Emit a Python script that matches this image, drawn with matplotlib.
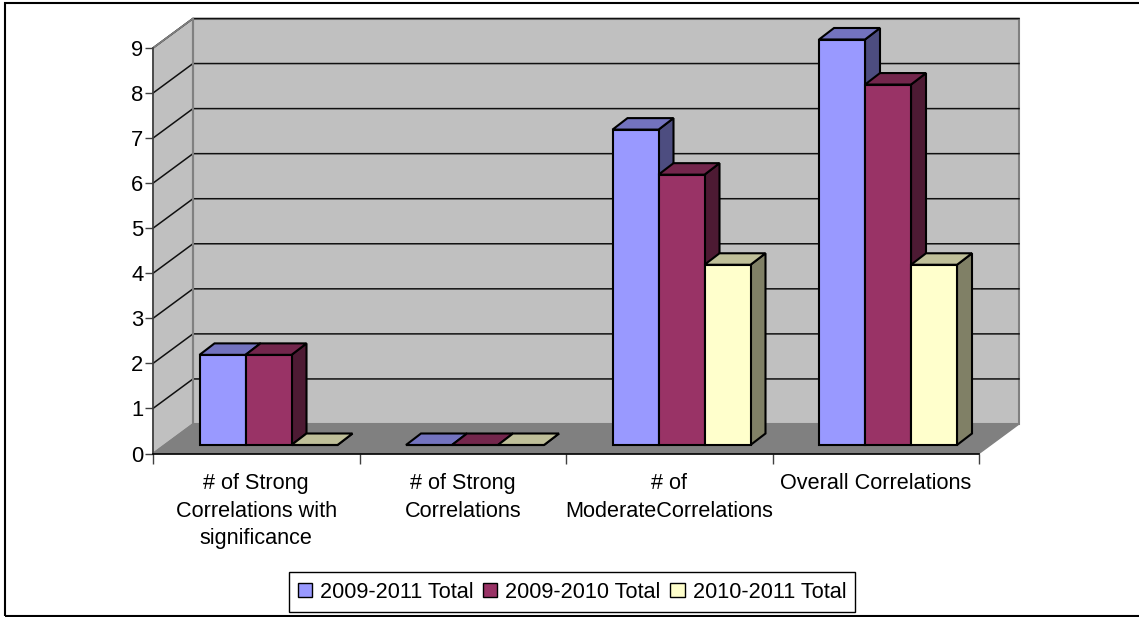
import matplotlib
matplotlib.use('Agg')
import matplotlib.pyplot as plt
from matplotlib.patches import Patch, Polygon

categories = ['# of Strong\nCorrelations with\nsignificance', '# of Strong\nCorrelations',
              '# of\nModerateCorrelations', 'Overall Correlations']
series_names = ['2009-2011 Total', '2009-2010 Total', '2010-2011 Total']
total_0911 = [2, 0, 7, 9]
total_0910 = [2, 0, 6, 8]
total_1011 = [0, 0, 4, 4]
yticks = list(range(10))

front = ['#9999FF', '#993366', '#FFFFCC']
top = ['#7373BF', '#73264C', '#BFBF99']
side = ['#4D4D80', '#4D1A33', '#808066']

W, H = 1139, 617
plt.rcParams['font.family'] = ['Liberation Sans', 'DejaVu Sans']

fig = plt.figure(figsize=(W / 100, H / 100), dpi=100, facecolor='white')

# outer frame around the chart, its right edge runs off the canvas
fig.add_artist(plt.Rectangle((5 / W, 1 - 616 / H), 1140 / W, 613.5 / H, fill=False,
                             ec='black', lw=1.5, transform=fig.transFigure))

ax = fig.add_axes([153 / W, 1 - 453.5 / H, 826 / W, 405.5 / H])
ax.set_xlim(0, 4)
ax.set_ylim(0, 9)
ax.patch.set_visible(False)
for s in ['top', 'right']:
    ax.spines[s].set_visible(False)
ax.spines['left'].set_color('#404040')
ax.spines['left'].set_linewidth(1.2)
ax.spines['left'].set_zorder(2.5)
ax.spines['bottom'].set_color('black')
ax.spines['bottom'].set_linewidth(1.2)

# depth of the box and of the bars, in axis units
unit_x = 826 / 4
unit_y = 405.5 / 9
box_dx = 40 / unit_x
box_dy = 29.5 / unit_y
bar_dx = 15 / unit_x
bar_dy = 11.5 / unit_y
inset_y = 8.5 / unit_y
bar_w = 46 / unit_x
gap = 46.5 / unit_x


def poly(pts, fc, ec, lw=1.2, z=1):
    ax.add_patch(Polygon(pts, closed=True, fc=fc, ec=ec, lw=lw, zorder=z, clip_on=False,
                         joinstyle='miter'))


# walls and floor
poly([(0, 0), (box_dx, box_dy), (box_dx, 9 + box_dy), (0, 9)], '#C0C0C0', '#808080', 1.2, 1)
poly([(box_dx, box_dy), (4 + box_dx, box_dy), (4 + box_dx, 9 + box_dy), (box_dx, 9 + box_dy)],
     '#C0C0C0', '#808080', 1.5, 1)
poly([(0, 0), (4, 0), (4 + box_dx, box_dy), (box_dx, box_dy)], '#808080', '#808080', 1, 1.5)

# gridlines run along the side wall and across the back wall
for v in yticks[1:]:
    ax.plot([0, box_dx, 4 + box_dx], [v, v + box_dy, v + box_dy], color='#101010', lw=1.1,
            clip_on=False, zorder=2, solid_joinstyle='miter')
ax.plot([0, box_dx], [9, 9 + box_dy], color='#808080', lw=1.2, clip_on=False, zorder=2.1)
ax.plot([box_dx, box_dx], [box_dy, 9 + box_dy], color='#808080', lw=1.5, clip_on=False, zorder=2.2)

# bars, painted back to front and left to right
z = 3
for c in range(len(categories)):
    vals = [total_0911[c], total_0910[c], total_1011[c]]
    left = c + gap
    for i, v in enumerate(vals):
        x0 = left + i * bar_w
        x1 = x0 + bar_w
        y0 = inset_y
        y1 = v + inset_y
        poly([(x1, y0), (x1 + bar_dx, y0 + bar_dy), (x1 + bar_dx, y1 + bar_dy), (x1, y1)],
             side[i], 'black', 1.5, z)
        poly([(x0, y1), (x1, y1), (x1 + bar_dx, y1 + bar_dy), (x0 + bar_dx, y1 + bar_dy)],
             top[i], 'black', 1.5, z)
        poly([(x0, y0), (x1, y0), (x1, y1), (x0, y1)], front[i], 'black', 1.5, z)
        z += 0.01

ax.set_yticks(yticks)
ax.set_yticklabels([str(v) for v in yticks], fontsize=15.8)
ax.tick_params(axis='y', length=5.8, width=1, color='#404040', pad=1)
ax.set_xticks(range(5))
ax.set_xticklabels([])
ax.tick_params(axis='x', length=7, width=1, color='#404040')
ax.set_xticks([c + 0.5 for c in range(4)], minor=True)
ax.set_xticklabels(categories, minor=True, fontsize=15.6, linespacing=1.42)
ax.tick_params(axis='x', which='minor', length=0, pad=14)
for t in ax.get_xticklabels(minor=True):
    t.set_verticalalignment('top')

handles = [Patch(fc=front[i], ec='black', lw=1) for i in range(3)]
leg = fig.legend(handles, series_names, loc='center', ncol=3, fontsize=15.6,
                 bbox_to_anchor=(572 / W, 1 - 592 / H), frameon=True, fancybox=False,
                 edgecolor='black', framealpha=1, borderpad=0.42, handlelength=0.65,
                 handleheight=0.65, handletextpad=0.37, columnspacing=0.45, borderaxespad=0)
leg.get_frame().set_linewidth(1)

fig.savefig('out.png', dpi=100, facecolor='white')
